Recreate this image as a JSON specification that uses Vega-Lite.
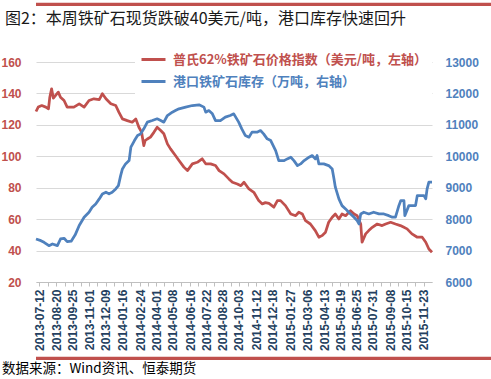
{
  "$schema": "https://vega.github.io/schema/vega-lite/v6.json",
  "padding": {"left": 0, "right": 0, "top": 2, "bottom": 0},
  "spacing": 5,
  "background": "white",
  "config": {"view": {"stroke": null}, "axis": {"labelFont": "Liberation Sans"}},
  "resolve": {"scale": {"x": "independent", "y": "independent", "color": "independent"}, "axis": {"x": "independent", "y": "independent"}, "legend": {"color": "independent"}},
  "vconcat": [
    {
      "width": 491,
      "height": 2,
      "view": {"fill": "#C0504D", "stroke": null},
      "data": {"values": [{"x0": 0, "x1": 1, "y0": 0, "y1": 1}]},
      "layer": [
        {
          "mark": {"type": "rect", "fill": "#C0504D"},
          "encoding": {
            "x": {"field": "x0", "type": "quantitative", "scale": {"domain": [0, 1]}, "axis": null},
            "x2": {"field": "x1"},
            "y": {"field": "y0", "type": "quantitative", "scale": {"domain": [0, 1]}, "axis": null},
            "y2": {"field": "y1"}
          }
        },
        {
          "mark": {"type": "rule", "stroke": "#C0504D", "strokeWidth": 2.5},
          "encoding": {
            "x": {"field": "x0", "type": "quantitative", "axis": null},
            "x2": {"field": "x1"},
            "y": {"field": "y1", "type": "quantitative", "axis": null}
          }
        }
      ]
    },
    {
      "width": 396,
      "height": 220,
      "title": {"text": "图2：本周铁矿石现货跌破40美元/吨，港口库存快速回升", "anchor": "start", "frame": "bounds", "font": "Noto Sans CJK SC", "fontSize": 16, "fontWeight": "normal", "color": "#1a1a1a", "offset": 14, "dx": 4},
      "data": {
        "format": {"parse": {"date": "date:'%Y-%m-%d'"}},
        "values": [
          {"date": "2013-07-05", "price": 128.5},
          {"date": "2013-07-10", "price": 131.3},
          {"date": "2013-07-18", "price": 132.3},
          {"date": "2013-07-27", "price": 131.3},
          {"date": "2013-08-02", "price": 130.2},
          {"date": "2013-08-05", "price": 137.6},
          {"date": "2013-08-09", "price": 142.9},
          {"date": "2013-08-13", "price": 137.0},
          {"date": "2013-08-18", "price": 138.7},
          {"date": "2013-08-24", "price": 140.8},
          {"date": "2013-08-29", "price": 137.6},
          {"date": "2013-09-06", "price": 135.5},
          {"date": "2013-09-13", "price": 131.3},
          {"date": "2013-09-17", "price": 131.3},
          {"date": "2013-09-28", "price": 131.3},
          {"date": "2013-10-10", "price": 133.4},
          {"date": "2013-10-21", "price": 131.3},
          {"date": "2013-11-01", "price": 135.5},
          {"date": "2013-11-12", "price": 136.6},
          {"date": "2013-11-24", "price": 136.1},
          {"date": "2013-12-01", "price": 139.8},
          {"date": "2013-12-09", "price": 136.6},
          {"date": "2013-12-20", "price": 133.4},
          {"date": "2013-12-31", "price": 132.3},
          {"date": "2014-01-07", "price": 128.1},
          {"date": "2014-01-15", "price": 123.8},
          {"date": "2014-01-26", "price": 122.7},
          {"date": "2014-02-06", "price": 121.7},
          {"date": "2014-02-14", "price": 123.8},
          {"date": "2014-02-21", "price": 118.5},
          {"date": "2014-02-27", "price": 115.4},
          {"date": "2014-03-04", "price": 106.8},
          {"date": "2014-03-07", "price": 110.0},
          {"date": "2014-03-12", "price": 111.0},
          {"date": "2014-03-19", "price": 112.2},
          {"date": "2014-03-27", "price": 115.4},
          {"date": "2014-04-03", "price": 118.5},
          {"date": "2014-04-11", "price": 116.4},
          {"date": "2014-04-18", "price": 114.3},
          {"date": "2014-04-26", "price": 107.9},
          {"date": "2014-05-03", "price": 104.7},
          {"date": "2014-05-14", "price": 100.5},
          {"date": "2014-05-22", "price": 97.3},
          {"date": "2014-06-02", "price": 93.1},
          {"date": "2014-06-10", "price": 90.9},
          {"date": "2014-06-21", "price": 95.2},
          {"date": "2014-07-02", "price": 96.2},
          {"date": "2014-07-13", "price": 98.4},
          {"date": "2014-07-21", "price": 95.2},
          {"date": "2014-08-01", "price": 95.2},
          {"date": "2014-08-12", "price": 94.1},
          {"date": "2014-08-20", "price": 90.9},
          {"date": "2014-08-31", "price": 88.8},
          {"date": "2014-09-11", "price": 85.6},
          {"date": "2014-09-19", "price": 83.5},
          {"date": "2014-09-30", "price": 82.4},
          {"date": "2014-10-08", "price": 81.3},
          {"date": "2014-10-15", "price": 83.5},
          {"date": "2014-10-26", "price": 79.2},
          {"date": "2014-11-06", "price": 77.1},
          {"date": "2014-11-17", "price": 71.8},
          {"date": "2014-11-25", "price": 69.7},
          {"date": "2014-12-02", "price": 70.5},
          {"date": "2014-12-10", "price": 70.0},
          {"date": "2014-12-21", "price": 67.6},
          {"date": "2014-12-29", "price": 71.8},
          {"date": "2015-01-05", "price": 71.8},
          {"date": "2015-01-16", "price": 68.6},
          {"date": "2015-01-28", "price": 63.3},
          {"date": "2015-02-08", "price": 62.2},
          {"date": "2015-02-15", "price": 64.4},
          {"date": "2015-02-23", "price": 63.3},
          {"date": "2015-03-02", "price": 59.0},
          {"date": "2015-03-13", "price": 56.9},
          {"date": "2015-03-24", "price": 52.7},
          {"date": "2015-04-01", "price": 48.5},
          {"date": "2015-04-08", "price": 49.5},
          {"date": "2015-04-16", "price": 51.7},
          {"date": "2015-04-23", "price": 58.0},
          {"date": "2015-05-01", "price": 61.2},
          {"date": "2015-05-08", "price": 63.3},
          {"date": "2015-05-16", "price": 60.1},
          {"date": "2015-05-23", "price": 63.3},
          {"date": "2015-05-31", "price": 62.2},
          {"date": "2015-06-11", "price": 65.4},
          {"date": "2015-06-19", "price": 63.3},
          {"date": "2015-06-26", "price": 62.2},
          {"date": "2015-07-04", "price": 56.9},
          {"date": "2015-07-07", "price": 45.3},
          {"date": "2015-07-15", "price": 50.6},
          {"date": "2015-07-22", "price": 52.7},
          {"date": "2015-07-30", "price": 54.8},
          {"date": "2015-08-10", "price": 56.9},
          {"date": "2015-08-21", "price": 55.9},
          {"date": "2015-08-29", "price": 56.9},
          {"date": "2015-09-09", "price": 58.0},
          {"date": "2015-09-20", "price": 56.9},
          {"date": "2015-10-01", "price": 55.9},
          {"date": "2015-10-09", "price": 54.8},
          {"date": "2015-10-16", "price": 53.8},
          {"date": "2015-10-27", "price": 50.6},
          {"date": "2015-11-08", "price": 48.5},
          {"date": "2015-11-19", "price": 48.5},
          {"date": "2015-11-27", "price": 45.3},
          {"date": "2015-12-04", "price": 41.0},
          {"date": "2015-12-11", "price": 38.9},
          {"date": "2013-07-05", "inv": 7369},
          {"date": "2013-07-16", "inv": 7315},
          {"date": "2013-07-23", "inv": 7264},
          {"date": "2013-08-03", "inv": 7156},
          {"date": "2013-08-11", "inv": 7210},
          {"date": "2013-08-22", "inv": 7156},
          {"date": "2013-08-29", "inv": 7369},
          {"date": "2013-09-06", "inv": 7391},
          {"date": "2013-09-13", "inv": 7284},
          {"date": "2013-09-22", "inv": 7300},
          {"date": "2013-10-01", "inv": 7500},
          {"date": "2013-10-10", "inv": 7800},
          {"date": "2013-10-21", "inv": 8061},
          {"date": "2013-11-01", "inv": 8220},
          {"date": "2013-11-08", "inv": 8379},
          {"date": "2013-11-16", "inv": 8484},
          {"date": "2013-11-24", "inv": 8644},
          {"date": "2013-12-01", "inv": 8803},
          {"date": "2013-12-09", "inv": 8857},
          {"date": "2013-12-16", "inv": 8803},
          {"date": "2013-12-23", "inv": 8857},
          {"date": "2013-12-31", "inv": 8962},
          {"date": "2014-01-06", "inv": 9067},
          {"date": "2014-01-11", "inv": 9386},
          {"date": "2014-01-15", "inv": 9598},
          {"date": "2014-01-22", "inv": 9758},
          {"date": "2014-01-30", "inv": 9863},
          {"date": "2014-02-03", "inv": 10290},
          {"date": "2014-02-11", "inv": 10500},
          {"date": "2014-02-18", "inv": 10660},
          {"date": "2014-02-25", "inv": 10714},
          {"date": "2014-03-04", "inv": 10873},
          {"date": "2014-03-12", "inv": 11086},
          {"date": "2014-03-23", "inv": 11137},
          {"date": "2014-04-03", "inv": 11192},
          {"date": "2014-04-11", "inv": 11137},
          {"date": "2014-04-18", "inv": 11086},
          {"date": "2014-04-26", "inv": 11297},
          {"date": "2014-05-07", "inv": 11404},
          {"date": "2014-05-14", "inv": 11455},
          {"date": "2014-05-22", "inv": 11510},
          {"date": "2014-06-06", "inv": 11564},
          {"date": "2014-06-21", "inv": 11615},
          {"date": "2014-07-06", "inv": 11638},
          {"date": "2014-07-17", "inv": 11564},
          {"date": "2014-07-21", "inv": 11404},
          {"date": "2014-07-28", "inv": 11455},
          {"date": "2014-08-05", "inv": 11351},
          {"date": "2014-08-12", "inv": 11137},
          {"date": "2014-08-23", "inv": 11137},
          {"date": "2014-09-03", "inv": 11245},
          {"date": "2014-09-14", "inv": 11297},
          {"date": "2014-09-22", "inv": 11351},
          {"date": "2014-10-03", "inv": 11086},
          {"date": "2014-10-10", "inv": 10873},
          {"date": "2014-10-18", "inv": 10660},
          {"date": "2014-10-26", "inv": 10608},
          {"date": "2014-11-02", "inv": 10768},
          {"date": "2014-11-13", "inv": 10768},
          {"date": "2014-11-21", "inv": 10819},
          {"date": "2014-11-28", "inv": 10714},
          {"date": "2014-12-06", "inv": 10555},
          {"date": "2014-12-14", "inv": 10500},
          {"date": "2014-12-25", "inv": 10182},
          {"date": "2015-01-01", "inv": 9863},
          {"date": "2015-01-13", "inv": 9863},
          {"date": "2015-01-20", "inv": 9917},
          {"date": "2015-01-28", "inv": 9970},
          {"date": "2015-02-04", "inv": 9863},
          {"date": "2015-02-12", "inv": 9704},
          {"date": "2015-02-19", "inv": 9758},
          {"date": "2015-02-27", "inv": 9863},
          {"date": "2015-03-10", "inv": 9970},
          {"date": "2015-03-17", "inv": 10023},
          {"date": "2015-03-24", "inv": 9917},
          {"date": "2015-03-28", "inv": 10023},
          {"date": "2015-04-01", "inv": 9758},
          {"date": "2015-04-12", "inv": 9758},
          {"date": "2015-04-23", "inv": 9704},
          {"date": "2015-05-01", "inv": 9598},
          {"date": "2015-05-05", "inv": 9280},
          {"date": "2015-05-08", "inv": 9016},
          {"date": "2015-05-16", "inv": 8644},
          {"date": "2015-05-23", "inv": 8430},
          {"date": "2015-05-31", "inv": 8325},
          {"date": "2015-06-07", "inv": 8220},
          {"date": "2015-06-19", "inv": 8061},
          {"date": "2015-06-26", "inv": 7952},
          {"date": "2015-06-30", "inv": 7847},
          {"date": "2015-07-04", "inv": 8166},
          {"date": "2015-07-11", "inv": 8220},
          {"date": "2015-07-22", "inv": 8166},
          {"date": "2015-08-02", "inv": 8220},
          {"date": "2015-08-14", "inv": 8166},
          {"date": "2015-08-25", "inv": 8166},
          {"date": "2015-09-05", "inv": 8111},
          {"date": "2015-09-13", "inv": 8061},
          {"date": "2015-09-20", "inv": 8061},
          {"date": "2015-09-27", "inv": 8400},
          {"date": "2015-10-02", "inv": 8590},
          {"date": "2015-10-09", "inv": 8590},
          {"date": "2015-10-11", "inv": 8111},
          {"date": "2015-10-20", "inv": 8430},
          {"date": "2015-11-04", "inv": 8430},
          {"date": "2015-11-08", "inv": 8750},
          {"date": "2015-11-23", "inv": 8750},
          {"date": "2015-11-27", "inv": 8644},
          {"date": "2015-11-30", "inv": 8962},
          {"date": "2015-12-04", "inv": 9175},
          {"date": "2015-12-11", "inv": 9175}
        ]
      },
      "encoding": {
        "x": {
          "field": "date",
          "type": "temporal",
          "scale": {"domain": [{"year": 2013, "month": 7, "date": 5}, {"year": 2015, "month": 12, "date": 11}], "nice": false},
          "axis": {
            "title": null,
            "values": [
              {"year": 2013, "month": 7, "date": 12}, {"year": 2013, "month": 8, "date": 20}, {"year": 2013, "month": 9, "date": 25},
              {"year": 2013, "month": 11, "date": 1}, {"year": 2013, "month": 12, "date": 9}, {"year": 2014, "month": 1, "date": 16},
              {"year": 2014, "month": 2, "date": 24}, {"year": 2014, "month": 4, "date": 1}, {"year": 2014, "month": 5, "date": 8},
              {"year": 2014, "month": 6, "date": 16}, {"year": 2014, "month": 7, "date": 22}, {"year": 2014, "month": 8, "date": 28},
              {"year": 2014, "month": 10, "date": 3}, {"year": 2014, "month": 11, "date": 12}, {"year": 2014, "month": 12, "date": 18},
              {"year": 2015, "month": 1, "date": 27}, {"year": 2015, "month": 3, "date": 6}, {"year": 2015, "month": 4, "date": 13},
              {"year": 2015, "month": 5, "date": 19}, {"year": 2015, "month": 6, "date": 25}, {"year": 2015, "month": 7, "date": 31},
              {"year": 2015, "month": 9, "date": 8}, {"year": 2015, "month": 10, "date": 15}, {"year": 2015, "month": 11, "date": 23},
              {"year": 2013, "month": 7, "date": 31, "hours": 1}, {"year": 2013, "month": 9, "date": 7, "hours": 1}, {"year": 2013, "month": 10, "date": 13, "hours": 1},
              {"year": 2013, "month": 11, "date": 20, "hours": 1}, {"year": 2013, "month": 12, "date": 28, "hours": 1}, {"year": 2014, "month": 2, "date": 4, "hours": 1},
              {"year": 2014, "month": 3, "date": 14, "hours": 1}, {"year": 2014, "month": 4, "date": 19, "hours": 1}, {"year": 2014, "month": 5, "date": 27, "hours": 1},
              {"year": 2014, "month": 7, "date": 4, "hours": 1}, {"year": 2014, "month": 8, "date": 9, "hours": 1}, {"year": 2014, "month": 9, "date": 15, "hours": 1},
              {"year": 2014, "month": 10, "date": 23, "hours": 1}, {"year": 2014, "month": 11, "date": 30, "hours": 1}, {"year": 2015, "month": 1, "date": 7, "hours": 1},
              {"year": 2015, "month": 2, "date": 15, "hours": 1}, {"year": 2015, "month": 3, "date": 25, "hours": 1}, {"year": 2015, "month": 5, "date": 1, "hours": 1},
              {"year": 2015, "month": 6, "date": 6, "hours": 1}, {"year": 2015, "month": 7, "date": 13, "hours": 1}, {"year": 2015, "month": 8, "date": 19, "hours": 1},
              {"year": 2015, "month": 9, "date": 26, "hours": 1}, {"year": 2015, "month": 11, "date": 3, "hours": 1}
            ],
            "format": "%Y-%m-%d",
            "labelExpr": "hours(datum.value) == 0 ? datum.label : ''",
            "labelAngle": -90,
            "labelFontSize": 12,
            "labelFontWeight": "bold",
            "labelColor": "#243F60",
            "labelPadding": 3,
            "labelOverlap": false,
            "labelFlush": false,
            "labelBound": false,
            "tickSize": 4,
            "tickColor": "#BFBFBF",
            "domainColor": "#BFBFBF",
            "grid": false
          }
        }
      },
      "layer": [
        {
          "transform": [{"filter": "isValid(datum.price)"}],
          "mark": {"type": "line", "strokeWidth": 2.75, "strokeJoin": "round"},
          "encoding": {
            "y": {
              "field": "price", "type": "quantitative",
              "scale": {"domain": [20, 160], "nice": false, "zero": false},
              "axis": {"title": null, "values": [20, 40, 60, 80, 100, 120, 140, 160], "labelColor": "#C0504D", "labelFontSize": 12, "labelFontWeight": "bold", "labelPadding": 15, "ticks": false, "domain": false, "grid": true, "gridColor": "#D9D9D9", "gridWidth": 1}
            },
            "color": {
              "datum": "普氏62%铁矿石价格指数（美元/吨，左轴）",
              "scale": {"domain": ["普氏62%铁矿石价格指数（美元/吨，左轴）", "港口铁矿石库存（万吨，右轴）"], "range": ["#C0504D", "#4F81BD"]},
              "legend": {
                "orient": "none", "legendX": 99, "legendY": -21, "title": null, "direction": "vertical",
                "symbolType": "stroke", "symbolSize": 576, "symbolStrokeWidth": 3,
                "labelFont": "Noto Sans CJK SC", "labelFontSize": 13, "labelFontWeight": "bold", "labelLimit": 500, "labelOffset": 6,
                "fillColor": "white", "padding": 5, "rowPadding": 1,
                "encode": {"labels": {"update": {"fill": {"signal": "indexof(datum.value, '左轴') >= 0 ? '#C0504D' : '#4F81BD'"}}}}
              }
            }
          }
        },
        {
          "transform": [{"filter": "isValid(datum.inv)"}],
          "mark": {"type": "line", "strokeWidth": 2.75, "strokeJoin": "round"},
          "encoding": {
            "y": {
              "field": "inv", "type": "quantitative",
              "scale": {"domain": [6000, 13000], "nice": false, "zero": false},
              "axis": {"title": null, "orient": "right", "format": "d", "values": [6000, 7000, 8000, 9000, 10000, 11000, 12000, 13000], "labelColor": "#4F81BD", "labelFontSize": 12, "labelFontWeight": "bold", "labelPadding": 13, "ticks": false, "domain": false, "grid": false}
            },
            "color": {"datum": "港口铁矿石库存（万吨，右轴）"}
          }
        }
      ],
      "resolve": {"scale": {"y": "independent"}}
    },
    {
      "width": 491,
      "height": 2,
      "view": {"fill": "#C0504D", "stroke": null},
      "data": {"values": [{"x0": 0, "x1": 1, "y0": 0, "y1": 1}]},
      "layer": [
        {
          "mark": {"type": "rect", "fill": "#C0504D"},
          "encoding": {
            "x": {"field": "x0", "type": "quantitative", "scale": {"domain": [0, 1]}, "axis": null},
            "x2": {"field": "x1"},
            "y": {"field": "y0", "type": "quantitative", "scale": {"domain": [0, 1]}, "axis": null},
            "y2": {"field": "y1"}
          }
        },
        {
          "mark": {"type": "rule", "stroke": "#C0504D", "strokeWidth": 2.5},
          "encoding": {
            "x": {"field": "x0", "type": "quantitative", "axis": null},
            "x2": {"field": "x1"},
            "y": {"field": "y1", "type": "quantitative", "axis": null}
          }
        }
      ],
      "title": {"text": "数据来源：Wind资讯、恒泰期货", "orient": "bottom", "anchor": "start", "frame": "group", "font": "Noto Sans CJK SC", "fontSize": 13.5, "fontWeight": "normal", "color": "#000000", "offset": 2, "dx": -34, "baseline": "top"}
    }
  ]
}
